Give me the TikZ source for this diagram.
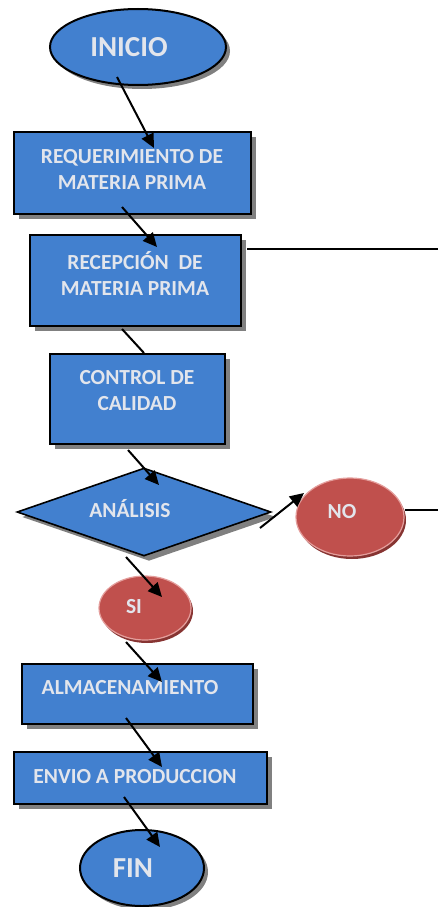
\documentclass[tikz,border=0pt]{standalone}
\usepackage{fontspec}
\setmainfont{Carlito}
\usetikzlibrary{shapes.geometric,shadows,arrows.meta}
\definecolor{boxblue}{RGB}{66,128,207}
\definecolor{txtgray}{RGB}{226,229,236}
\definecolor{redfill}{RGB}{192,80,77}
\definecolor{redshadow}{RGB}{135,52,50}
\definecolor{rededge}{RGB}{228,158,156}
\definecolor{shadowgray}{RGB}{128,128,128}
\tikzset{
  gshadow/.style={drop shadow={shadow xshift=5pt,shadow yshift=-5pt,fill=shadowgray,opacity=1}},
  bluebox/.style={rectangle,draw=black,line width=2pt,fill=boxblue,inner sep=0pt,gshadow},
  blueell/.style={ellipse,draw=black,line width=2pt,fill=boxblue,inner sep=0pt,drop shadow={shadow xshift=4pt,shadow yshift=-4pt,fill=shadowgray,opacity=1}},
  bluedia/.style={diamond,draw=black,line width=1.6pt,fill=boxblue,inner sep=0pt,gshadow},
  redell/.style={ellipse,draw=rededge,line width=1.2pt,fill=redfill,inner sep=0pt,drop shadow={shadow xshift=2pt,shadow yshift=-3pt,fill=redshadow,opacity=1}},
  lbl/.style={text=txtgray,font=\fontsize{21.5}{26}\selectfont\bfseries,align=center,inner sep=0pt},
  biglbl/.style={text=txtgray,font=\fontsize{29}{34}\selectfont\bfseries,inner sep=0pt},
  arr/.style={line width=2pt,-{Triangle[length=14pt,width=13pt]}},
  ln/.style={line width=2pt}
}
\begin{document}
\begin{tikzpicture}[x=1pt,y=-1pt]
\useasboundingbox (0,0) rectangle (438,907);
% shapes
\node[blueell,minimum width=176pt,minimum height=76pt] (ini) at (138,47) {};
\node[bluebox,minimum width=237pt,minimum height=82pt] (req) at (132.5,173) {};
\node[bluebox,minimum width=211pt,minimum height=91pt] (rec) at (135.5,280.5) {};
\node[bluebox,minimum width=175pt,minimum height=90pt] (ctl) at (137.5,399) {};
\node[bluedia,minimum width=254pt,minimum height=88pt,aspect=2.886] (ana) at (144,512) {};
\node[redell,minimum width=108pt,minimum height=78pt] (no) at (350,517) {};
\node[redell,minimum width=92pt,minimum height=64pt] (si) at (145,608) {};
\node[bluebox,minimum width=231pt,minimum height=60pt] (alm) at (137.5,694) {};
\node[bluebox,minimum width=253pt,minimum height=52pt] (env) at (140.5,778) {};
\node[blueell,minimum width=124pt,minimum height=76pt] (fin) at (142,868) {};
% texts
\node[biglbl] (ini-t) at (129,47) {INICIO};
\node[lbl] (req-t) at (132,169.5) {REQUERIMIENTO DE\\MATERIA PRIMA};
\node[lbl] (rec-t) at (135,273) {RECEPCIÓN\ \ DE\\MATERIA PRIMA};
\node[lbl] (ctl-t) at (137,391) {CONTROL DE\\CALIDAD};
\node[lbl] (ana-t) at (130,509) {ANÁLISIS};
\node[lbl] (no-t) at (342,512) {NO};
\node[lbl] (si-t) at (134,607) {SI};
\node[lbl] (alm-t) at (130,688) {ALMACENAMIENTO};
\node[lbl] (env-t) at (135,777) {ENVIO A PRODUCCION};
\node[biglbl] (fin-t) at (133,868) {FIN};
% free ends
\coordinate (recout) at (438,249);
\coordinate (noout) at (438,510);
% connectors
\draw[arr] ([shift={(-21,30)}]ini.center) -- ([shift={(21.5,-25)}]req.center);
\draw[arr] ([shift={(-10.5,34)}]req.center) -- ([shift={(21.5,-33.5)}]rec.center);
\draw[ln] ([shift={(-13.5,48.5)}]rec.center) -- ([shift={(6.5,-46)}]ctl.center);
\draw[ln] ([shift={(5,-31.5)}]rec.east) -- (recout);
\draw[arr] ([shift={(-9.5,51)}]ctl.center) -- ([shift={(15,-27)}]ana.center);
\draw[arr] ([shift={(116,16)}]ana.center) -- ([shift={(-46,-24)}]no.center);
\draw[ln] ([shift={(0,-7)}]no.east) -- (noout);
\draw[arr] ([shift={(-18,45)}]ana.center) -- ([shift={(17,-11)}]si.center);
\draw[arr] ([shift={(-19,34)}]si.center) -- ([shift={(24.5,-12)}]alm.center);
\draw[arr] ([shift={(-11.5,24)}]alm.center) -- ([shift={(21.5,-11)}]env.center);
\draw[arr] ([shift={(-16.5,19)}]env.center) -- ([shift={(18,-21)}]fin.center);
\end{tikzpicture}
\end{document}
